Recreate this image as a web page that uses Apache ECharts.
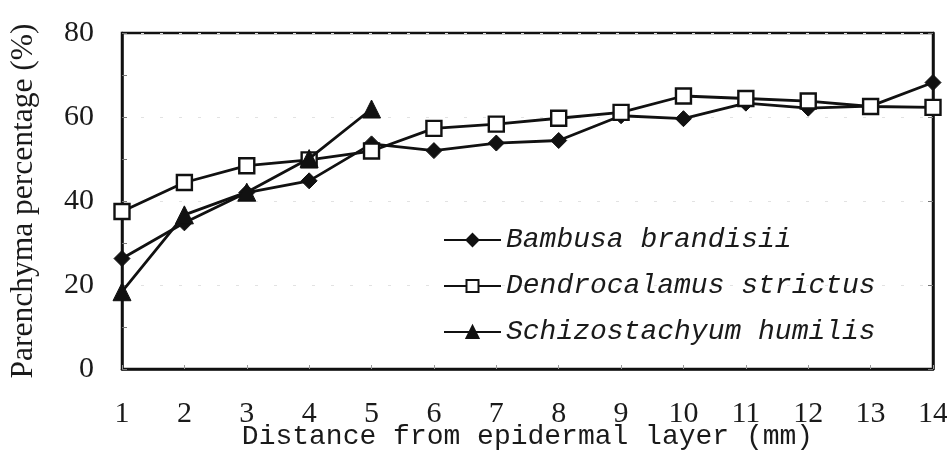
<!DOCTYPE html>
<html>
<head>
<meta charset="utf-8">
<script src="https://cdn.jsdelivr.net/npm/echarts@6/dist/echarts.min.js"></script>
<style>
html,body{margin:0;padding:0;background:#fff;}
#chart{width:947px;height:452px;}
</style>
</head>
<body>
<div id="chart"></div>
<script>
const categories = ['1','2','3','4','5','6','7','8','9','10','11','12','13','14'];
const bambusa = [26.3, 34.8, 42.0, 44.8, 53.6, 52.0, 53.8, 54.4, 60.3, 59.6, 63.3, 62.1, 62.6, 68.2];
const dendrocalamus = [37.5, 44.4, 48.4, 49.8, 51.9, 57.3, 58.3, 59.7, 61.1, 65.0, 64.4, 63.8, 62.5, 62.3];
const schizostachyum = [18.4, 36.7, 42.1, 50.1, 61.9];
const seriesNames = ['Bambusa brandisii', 'Dendrocalamus strictus', 'Schizostachyum humilis'];
const yTicks = { min: 0, max: 80, interval: 20 };

const chart = echarts.init(document.getElementById('chart'), null, { renderer: 'canvas' });
const ink = '#111';
const lineStyle = { color: ink, width: 2.8 };
chart.setOption({
  backgroundColor: '#fff',
  animation: false,
  grid: { left: 122, right: 14, top: 33, bottom: 83, outerBoundsMode: 'none', containLabel: false, show: true, borderColor: ink, borderWidth: 2.5, backgroundColor: 'transparent' },
  legend: {
    orient: 'vertical',
    left: 443,
    top: 225,
    padding: 0,
    itemWidth: 57,
    itemHeight: 15,
    itemGap: 16,
    textStyle: { fontFamily: 'Liberation Mono', fontStyle: 'italic', fontSize: 28, color: '#1a1a1a', lineHeight: 30 },
    data: seriesNames
  },
  xAxis: {
    type: 'category',
    data: categories,
    boundaryGap: false,
    name: 'Distance from epidermal layer (mm)',
    nameLocation: 'middle',
    nameGap: 54,
    nameMoveOverlap: false,
    nameTextStyle: { fontFamily: 'Liberation Mono', fontSize: 28, color: '#1a1a1a', lineHeight: 28 },
    axisLine: { lineStyle: { color: ink, width: 2.5 } },
    axisTick: { inside: true, length: 4, lineStyle: { color: '#999', width: 1 } },
    axisLabel: { fontFamily: 'Liberation Serif', fontSize: 30, color: '#1a1a1a', margin: 30 },
    splitLine: { show: false }
  },
  yAxis: [{
    type: 'value',
    min: yTicks.min,
    max: yTicks.max,
    interval: yTicks.interval,
    name: 'Parenchyma percentage (%)',
    nameLocation: 'middle',
    nameGap: 82,
    nameMoveOverlap: false,
    nameTextStyle: { fontFamily: 'Liberation Serif', fontSize: 31.5, color: '#1a1a1a' },
    axisLine: { show: true, lineStyle: { color: ink, width: 2.5 } },
    axisTick: { show: true, inside: true, length: 5, lineStyle: { color: '#777', width: 1 } },
    minorTick: { show: true, splitNumber: 2, length: 5, lineStyle: { color: '#777', width: 1 } },
    axisLabel: { fontFamily: 'Liberation Serif', fontSize: 30, color: '#1a1a1a', margin: 28 },
    splitLine: { show: true, lineStyle: { color: '#e2e2e2', width: 1, type: [3, 16] } }
  }, {
    type: 'value',
    position: 'right',
    min: yTicks.min,
    max: yTicks.max,
    interval: yTicks.interval,
    axisLine: { show: true, lineStyle: { color: ink, width: 2.5 } },
    axisTick: { show: true, inside: true, length: 5, lineStyle: { color: '#777', width: 1 } },
    axisLabel: { show: false },
    splitLine: { show: false }
  }],
  series: [{
    name: seriesNames[0],
    type: 'line',
    data: bambusa,
    symbol: 'diamond',
    symbolSize: 16,
    itemStyle: { color: ink, borderColor: ink, borderWidth: 1 },
    lineStyle: lineStyle,
    z: 3
  }, {
    name: seriesNames[1],
    type: 'line',
    data: dendrocalamus,
    symbol: 'rect',
    symbolSize: 15,
    itemStyle: { color: '#fff', borderColor: ink, borderWidth: 2.4 },
    lineStyle: lineStyle,
    z: 4
  }, {
    name: seriesNames[2],
    type: 'line',
    data: schizostachyum,
    symbol: 'triangle',
    symbolSize: 18,
    itemStyle: { color: ink, borderColor: ink, borderWidth: 1 },
    lineStyle: lineStyle,
    z: 5
  }]
});
</script>
</body>
</html>
